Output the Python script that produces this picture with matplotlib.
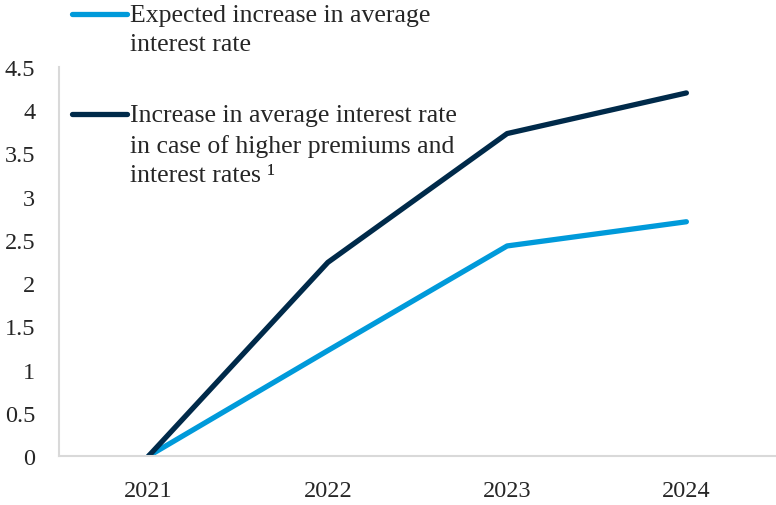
import matplotlib
matplotlib.use("Agg")
import matplotlib.pyplot as plt
from matplotlib.lines import Line2D

plt.rcParams["font.family"] = ["Liberation Serif", "DejaVu Serif"]

years = ["2021", "2022", "2023", "2024"]
expected = [0, 1.22, 2.43, 2.71]
higher_premiums = [0, 2.24, 3.73, 4.2]
y_ticks = [0, 0.5, 1, 1.5, 2, 2.5, 3, 3.5, 4, 4.5]
y_tick_labels = ["0", "0.5", "1", "1.5", "2", "2.5", "3", "3.5", "4", "4.5"]

LIGHT = "#009ADA"
DARK = "#002A4A"
GRID = "#D9D9D9"
TEXT = "#262626"

fig = plt.figure(figsize=(7.76, 5.06), dpi=100)
ax = fig.add_axes([0.076, 0.0968, 0.924, 0.7688])

x = range(len(years))
ax.plot(x, expected, color=LIGHT, lw=3.8, solid_capstyle="round",
        solid_joinstyle="round")
ax.plot(x, higher_premiums, color=DARK, lw=3.8, solid_capstyle="round",
        solid_joinstyle="round")

ax.set_xlim(-0.5, 3.5)
ax.set_ylim(0, 4.5)
ax.set_xticks(list(x))
ax.set_xticklabels(years)
ax.set_yticks(y_ticks)
ax.set_yticklabels(y_tick_labels)
ax.tick_params(length=0, labelsize=17.5, colors=TEXT)
ax.tick_params(axis="y", pad=17)
ax.tick_params(axis="x", pad=17)
for s in ("top", "right"):
    ax.spines[s].set_visible(False)
for s in ("left", "bottom"):
    ax.spines[s].set_color(GRID)
    ax.spines[s].set_linewidth(1.5)

# legend drawn by hand so the key sits on the first line of each label
W, H = 776, 506
entries = [
    (LIGHT, 15, "Expected increase in average\ninterest rate"),
    (DARK, 115, "Increase in average interest rate\nin case of higher premiums and\ninterest rates \u00b9"),
]
for color, ypx, label in entries:
    fig.add_artist(Line2D([72 / W, 127 / W], [1 - ypx / H, 1 - ypx / H],
                          color=color, lw=3.8, solid_capstyle="round",
                          transform=fig.transFigure))
    fig.text(130 / W, 1 - (ypx - 10) / H, label, va="top", ha="left",
             fontsize=18.5, color=TEXT, linespacing=1.42)

fig.savefig("out.png", dpi=100)
